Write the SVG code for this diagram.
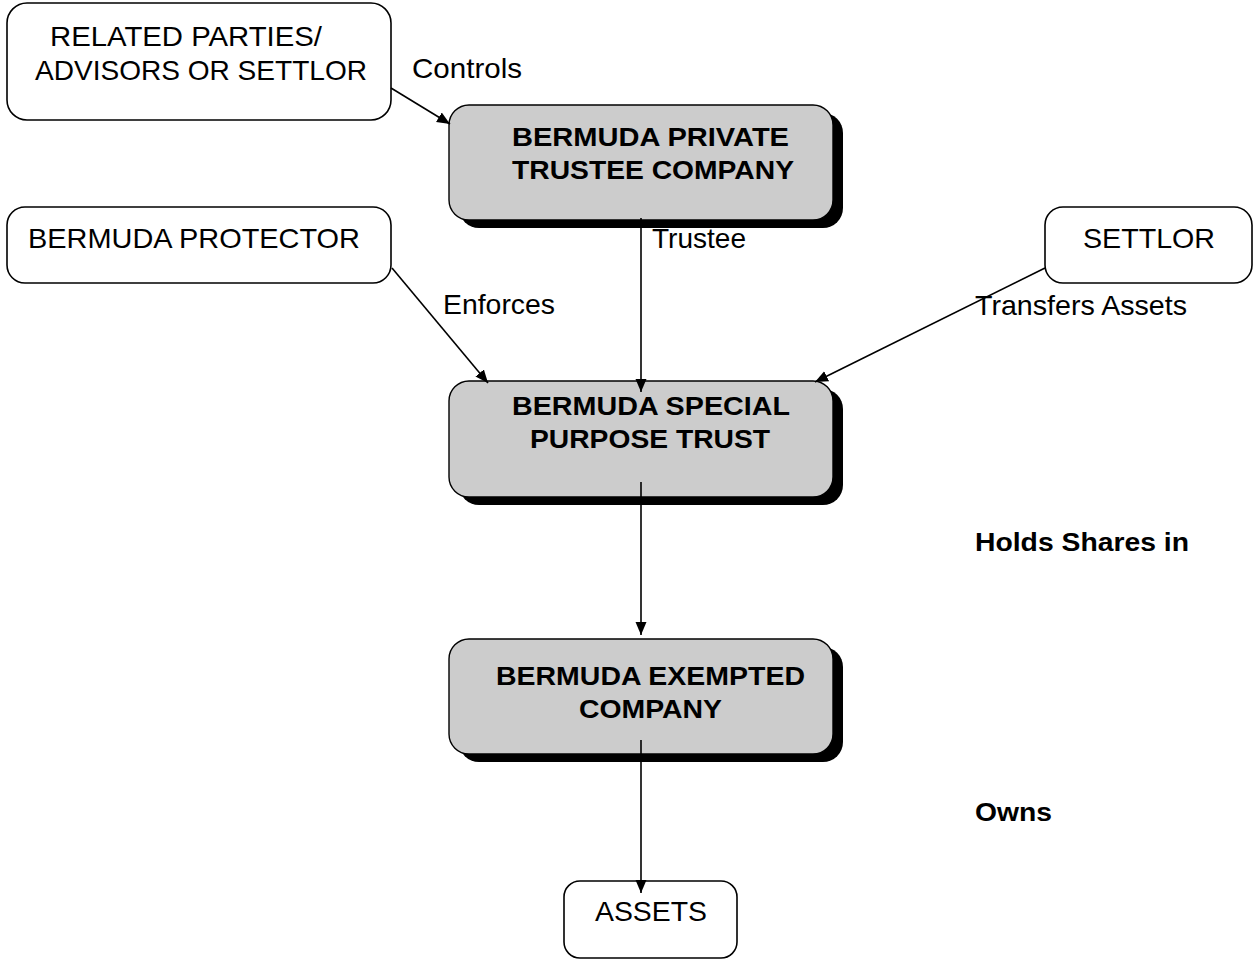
<svg xmlns="http://www.w3.org/2000/svg" width="1254" height="959" viewBox="0 0 1254 959">
<style>
.box{fill:#fff;stroke:#000;stroke-width:1.6}
.gbox{fill:#cccccc;stroke:#000;stroke-width:1.4}
.shadow{fill:#000}
.t{font-family:"Liberation Sans",Arial,sans-serif;font-size:28px;fill:#000}
.b{font-family:"Liberation Sans",Arial,sans-serif;font-size:26px;font-weight:bold;fill:#000}
.c{stroke:#000;stroke-width:1.6;fill:none;marker-end:url(#ah)}
</style>
<defs>
<marker id="ah" markerUnits="userSpaceOnUse" markerWidth="14" markerHeight="12" refX="13" refY="6" orient="auto">
<path d="M0,0.5 L13,6 L0,11.5 Z" fill="#000"/>
</marker>
</defs>
<rect width="1254" height="959" fill="#fff"/>
<g id="related">
<rect class="box" x="7" y="3" width="384" height="117" rx="20"/>
<text class="t" x="50" y="46" textLength="272" lengthAdjust="spacingAndGlyphs">RELATED PARTIES/</text>
<text class="t" x="35" y="80" textLength="332" lengthAdjust="spacingAndGlyphs">ADVISORS OR SETTLOR</text>
</g>
<g id="trustee-company">
<rect class="shadow" x="459" y="113" width="384" height="115" rx="20"/>
<rect class="gbox" x="449" y="105" width="384" height="115" rx="20"/>
<text class="b" x="512" y="146" textLength="277" lengthAdjust="spacingAndGlyphs">BERMUDA PRIVATE</text>
<text class="b" x="512" y="179" textLength="282" lengthAdjust="spacingAndGlyphs">TRUSTEE COMPANY</text>
</g>
<g id="protector">
<rect class="box" x="7" y="207" width="384" height="76" rx="18"/>
<text class="t" x="28" y="248" textLength="332" lengthAdjust="spacingAndGlyphs">BERMUDA PROTECTOR</text>
</g>
<g id="settlor">
<rect class="box" x="1045" y="207" width="207" height="76" rx="18"/>
<text class="t" x="1083" y="248" textLength="132" lengthAdjust="spacingAndGlyphs">SETTLOR</text>
</g>
<g id="special-trust">
<rect class="shadow" x="459" y="389" width="384" height="116" rx="20"/>
<rect class="gbox" x="449" y="381" width="384" height="116" rx="20"/>
<text class="b" x="512" y="415" textLength="278" lengthAdjust="spacingAndGlyphs">BERMUDA SPECIAL</text>
<text class="b" x="530" y="448" textLength="240" lengthAdjust="spacingAndGlyphs">PURPOSE TRUST</text>
</g>
<g id="exempted-company">
<rect class="shadow" x="459" y="647" width="384" height="115" rx="20"/>
<rect class="gbox" x="449" y="639" width="384" height="115" rx="20"/>
<text class="b" x="496" y="685" textLength="309" lengthAdjust="spacingAndGlyphs">BERMUDA EXEMPTED</text>
<text class="b" x="579" y="718" textLength="143" lengthAdjust="spacingAndGlyphs">COMPANY</text>
</g>
<g id="assets">
<rect class="box" x="564" y="881" width="173" height="77" rx="16"/>
<text class="t" x="595" y="921" textLength="112" lengthAdjust="spacingAndGlyphs">ASSETS</text>
</g>
<g id="connectors">
<line class="c" x1="391" y1="88" x2="450" y2="124"/>
<line class="c" x1="641" y1="218" x2="641" y2="392"/>
<line class="c" x1="392" y1="268" x2="488" y2="383"/>
<line class="c" x1="1045" y1="268" x2="815" y2="382"/>
<line class="c" x1="641" y1="482" x2="641" y2="635"/>
<line class="c" x1="641" y1="740" x2="641" y2="893"/>
</g>
<g id="labels">
<text class="t" x="412" y="78" textLength="110" lengthAdjust="spacingAndGlyphs">Controls</text>
<text class="t" x="652" y="248" textLength="94" lengthAdjust="spacingAndGlyphs">Trustee</text>
<text class="t" x="443" y="314" textLength="112" lengthAdjust="spacingAndGlyphs">Enforces</text>
<text class="t" x="975" y="315" textLength="212" lengthAdjust="spacingAndGlyphs">Transfers Assets</text>
<text class="b" x="975" y="551" textLength="214" lengthAdjust="spacingAndGlyphs">Holds Shares in</text>
<text class="b" x="975" y="821" textLength="77" lengthAdjust="spacingAndGlyphs">Owns</text>
</g>
</svg>
